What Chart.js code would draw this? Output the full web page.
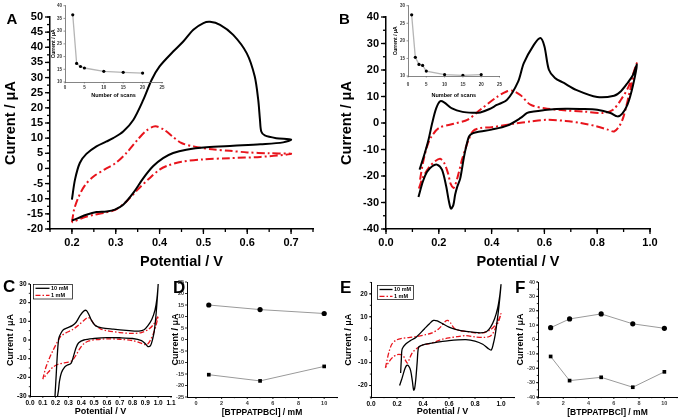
<!DOCTYPE html>
<html><head><meta charset="utf-8">
<script src="https://cdn.jsdelivr.net/npm/chart.js@4/dist/chart.umd.min.js"></script>
<style>
html,body{margin:0;padding:0;background:#fff;}
#root{position:relative;width:681px;height:420px;overflow:hidden;background:#fff;}
canvas{position:absolute;}
.lt{position:absolute;font-family:"Liberation Sans",Arial,sans-serif;font-weight:bold;color:#000;margin:0;}
</style></head><body>
<div id="root">
<canvas id="cA" width="340" height="275" style="left:0px;top:0px"></canvas>
<canvas id="cB" width="345" height="275" style="left:336px;top:0px"></canvas>
<canvas id="cAi" width="125" height="100" style="left:45px;top:0px"></canvas>
<canvas id="cBi" width="120" height="100" style="left:388px;top:0px"></canvas>
<canvas id="cC" width="180" height="145" style="left:0px;top:275px"></canvas>
<canvas id="cD" width="173" height="145" style="left:168px;top:275px"></canvas>
<canvas id="cE" width="180" height="145" style="left:340px;top:275px"></canvas>
<canvas id="cF" width="166" height="145" style="left:515px;top:275px"></canvas>
<div class="lt" style="left:6.5px;top:10.7px;font-size:15px;line-height:15px">A</div>
<div class="lt" style="left:339px;top:10.7px;font-size:15px;line-height:15px">B</div>
<div class="lt" style="left:3px;top:278px;font-size:17px;line-height:17px">C</div>
<div class="lt" style="left:173px;top:278.8px;font-size:17px;line-height:17px">D</div>
<div class="lt" style="left:340px;top:278.8px;font-size:17px;line-height:17px">E</div>
<div class="lt" style="left:515px;top:278.8px;font-size:17px;line-height:17px">F</div>
</div>
<script>
// ================= DATA =================
// Panel A (cyclic voltammograms)
const aBlackFwdX = [0.2,0.207,0.218,0.233,0.256,0.279,0.294,0.317,0.34,0.363,0.382,0.4,0.431,0.454,0.477,0.5,0.515,0.538,0.568,0.599,0.617,0.625,0.629,0.632,0.64,0.666,0.7];
const aBlackFwdY = [-10.3,-3.7,1.8,4.8,7.3,8.9,10,12.2,16,22.7,29.3,33.7,38.6,41.9,45.8,48,48.4,47.4,44.1,38,30.4,22.7,16.1,12.2,10.9,10,9.5];
const aBlackRevX = [0.7,0.682,0.63,0.568,0.507,0.461,0.431,0.408,0.385,0.363,0.34,0.317,0.298,0.279,0.256,0.233,0.214,0.2];
const aBlackRevY = [9.5,8.6,8.0,7.5,7.0,6.2,5.1,3.4,0.7,-3.2,-8.1,-12.0,-13.6,-14.2,-14.4,-15.3,-16.4,-17.2];
const aRedFwdX = [0.2,0.205,0.214,0.23,0.25,0.275,0.3,0.325,0.35,0.37,0.39,0.41,0.43,0.45,0.48,0.52,0.56,0.6,0.65,0.7];
const aRedFwdY = [-17.8,-13.6,-9.8,-5.5,-2.6,-0.3,1.8,5.2,9.5,12.5,13.9,12.8,10.5,8.4,7.2,6.3,5.8,5.3,5.0,4.8];
const aRedRevX = [0.7,0.63,0.56,0.5,0.45,0.42,0.4,0.375,0.35,0.325,0.3,0.275,0.25,0.225,0.2];
const aRedRevY = [4.4,3.8,3.4,3.0,2.2,1.0,-0.4,-3.5,-7,-10.8,-13.6,-14.6,-15.3,-16.3,-17.8];
const aXTicks = [0.2,0.3,0.4,0.5,0.6,0.7];
const aYTicks = [-20,-15,-10,-5,0,5,10,15,20,25,30,35,40,45,50];

// Panel A inset
const insetAScans = [2,3,4,5,10,15,20];
const insetACurrent = [36.4,17.3,16.1,15.5,14.2,13.8,13.5];
const insetAXTicks = [0,5,10,15,20,25];
const insetAYTicks = [10,15,20,25,30,35,40];

// Panel B
const bBlackFwdX = [0.127,0.145,0.161,0.175,0.19,0.205,0.22,0.25,0.29,0.33,0.357,0.39,0.42,0.459,0.5,0.522,0.56,0.585,0.6,0.617,0.64,0.674,0.72,0.8,0.864,0.89,0.915,0.935,0.95];
const bBlackFwdY = [-17.6,-12,-6.3,0,5.5,8.2,7.8,5.5,4.2,3.9,4.0,5.2,6.8,8.8,15.5,22.6,29.5,32.1,29,20.1,17,15.1,12.5,9.8,10.3,12,15.1,18,22];
const bBlackRevX = [0.95,0.935,0.915,0.895,0.877,0.85,0.8,0.738,0.68,0.611,0.56,0.535,0.51,0.459,0.4,0.357,0.33,0.315,0.304,0.295,0.281,0.27,0.262,0.255,0.246,0.237,0.228,0.212,0.193,0.175,0.155,0.14,0.123];
const bBlackRevY = [22,14,7,3.5,2.5,3.8,5,5.3,5.4,5.0,4.3,3.8,1.9,-1.0,-2.5,-3.2,-3.8,-5,-8.8,-13,-21,-24,-27,-31,-32.3,-28.9,-23.9,-17.6,-15.7,-16.3,-18.5,-22,-27.9];
const bRedFwdX = [0.129,0.14,0.155,0.17,0.2,0.256,0.31,0.357,0.42,0.455,0.478,0.51,0.547,0.6,0.674,0.75,0.826,0.86,0.89,0.92,0.95];
const bRedFwdY = [-21.4,-15,-9,-5.5,-1.9,-0.3,1.3,5.0,9.8,11.8,12.2,10.5,6.9,5.6,4.8,4.3,3.8,5,8.8,14,22.6];
const bRedRevX = [0.95,0.928,0.9,0.885,0.864,0.84,0.8,0.738,0.68,0.611,0.55,0.484,0.4,0.357,0.33,0.313,0.3,0.288,0.275,0.262,0.256,0.245,0.235,0.22,0.205,0.185,0.165,0.14,0.123];
const bRedRevY = [22.6,13.8,2.5,-1,-3.2,-2.5,-1.3,0,0.8,1.2,0.6,-0.3,-1.6,-1.9,-3,-6.3,-10,-13.8,-19,-23.5,-24.5,-23,-19,-15,-13.5,-14.5,-16.5,-20.5,-25.2];
const bXTicks = [0.0,0.2,0.4,0.6,0.8,1.0];
const bYTicks = [-40,-30,-20,-10,0,10,20,30,40];

// Panel B inset
const insetBScans = [1,2,3,4,5,10,15,20];
const insetBCurrent = [27.4,15.3,13.3,13.0,11.4,10.4,10.2,10.4];
const insetBXTicks = [0,5,10,15,20,25];
const insetBYTicks = [10,15,20,25,30];

// Panel C
const cLabels = ["10 mM","1 mM"];
const c10FwdX = [0.195,0.205,0.215,0.225,0.24,0.26,0.29,0.33,0.36,0.39,0.42,0.44,0.46,0.48,0.51,0.56,0.65,0.75,0.85,0.89,0.92,0.95,0.975,0.99,1.0];
const c10FwdY = [-30,-18,-6,1,3.5,5.5,6.5,7.7,9.5,13,15.5,15.8,13.5,10.5,7.7,6.5,5.8,5.2,4.8,5.5,7.7,11,16,22,30];
const c10RevX = [1.0,0.985,0.97,0.955,0.94,0.92,0.9,0.87,0.8,0.7,0.6,0.5,0.42,0.38,0.36,0.34,0.32,0.29,0.27,0.245,0.23,0.222,0.215];
const c10RevY = [30,15,5,0,-3,-3.5,-2,-0.3,0.8,1.2,1.3,0.8,0,-1.5,-4,-8.5,-12.5,-13.5,-14.5,-17.5,-22,-27,-30];
const c1FwdX = [0.1,0.12,0.15,0.18,0.21,0.24,0.28,0.33,0.38,0.42,0.45,0.47,0.5,0.55,0.6,0.7,0.8,0.87,0.92,0.96,0.99,1.0];
const c1FwdY = [-21,-15.5,-10,-5.5,-1.5,2,3.8,5.5,8,10.5,12,11.5,8.5,6,5,4,3.5,4,5.5,8,11.5,13];
const c1RevX = [1.0,0.98,0.96,0.94,0.92,0.9,0.86,0.8,0.7,0.6,0.52,0.46,0.42,0.39,0.36,0.33,0.3,0.26,0.22,0.18,0.14,0.1];
const c1RevY = [13,7,3,0,-2,-2.5,-1.5,-0.3,0.4,0.6,0.2,-0.5,-2,-4.5,-8,-11,-11.8,-12.3,-13,-14.5,-17.5,-21];
const cXTicks = [0.0,0.1,0.2,0.3,0.4,0.5,0.6,0.7,0.8,0.9,1.0,1.1];
const cYTicks = [-30,-20,-10,0,10,20,30];

// Panel D
const concD = [1,5,10];
const dAnodic = [15,13,11.3];
const dCathodic = [-15.3,-18,-11.7];
const dXTicks = [0,2,4,6,8,10];
const dYTicks = [-25,-20,-15,-10,-5,0,5,10,15,20,25];

// Panel E
const eLabels = ["10 mM","1 mM"];
const e10FwdX = [0.228,0.233,0.24,0.267,0.3,0.345,0.41,0.45,0.48,0.51,0.55,0.6,0.65,0.73,0.84,0.89,0.92,0.95,0.975,0.99,1.0];
const e10FwdY = [-14.5,-9,-4,-1.9,-0.5,1,4.7,7,8.4,8.2,7,5.5,4.5,3.6,3.0,3.6,5.5,9,14,19,24];
const e10RevX = [1.0,0.985,0.97,0.955,0.94,0.925,0.9,0.86,0.8,0.73,0.6,0.5,0.42,0.38,0.365,0.355,0.345,0.335,0.328,0.318,0.305,0.29,0.275,0.262,0.248,0.235,0.22];
const e10RevY = [24,15,8,2,-2,-4.5,-3.8,-2,-0.6,0,-0.4,-1.2,-1.9,-2.7,-3.4,-10,-17,-21.5,-22,-18,-13.5,-11.5,-11.2,-12.5,-15,-17.5,-20];
const e1FwdX = [0.111,0.125,0.14,0.16,0.19,0.23,0.3,0.36,0.42,0.47,0.52,0.55,0.575,0.59,0.61,0.64,0.68,0.73,0.8,0.86,0.91,0.95,0.98,1.0];
const e1FwdY = [-12.3,-8.5,-5,-2,-0.3,0.5,1,1.5,2.2,3,4.7,6.5,8.2,8.4,7.5,5,4,3.6,3,3,4,6,8.5,11.4];
const e1RevX = [1.0,0.985,0.965,0.94,0.915,0.87,0.8,0.73,0.66,0.6,0.55,0.5,0.45,0.4,0.36,0.33,0.31,0.295,0.28,0.265,0.25,0.23,0.2,0.17,0.14,0.111];
const e1RevY = [11.4,8.5,6,3,1.5,1,1.2,1.8,1.3,0.8,0.2,-0.8,-1.7,-2.3,-3.5,-4.9,-6.5,-8.5,-10.2,-9,-7.2,-6.5,-6.5,-7.5,-9.5,-12.3];
const eXTicks = [0.0,0.2,0.4,0.6,0.8,1.0];
const eYTicks = [-20,-10,0,10,20];

// Panel F
const concF = [1,2.5,5,7.5,10];
const fAnodic = [8.2,14.3,17.8,10.9,7.8];
const fCathodic = [-11.8,-28.6,-26.3,-33.2,-22.5];
const fXTicks = [0,2,4,6,8,10];
const fYTicks = [-40,-30,-20,-10,0,10,20,30,40];

// ================= RENDER =================
const FONT = "'Liberation Sans', Arial, Helvetica, sans-serif";
Chart.defaults.font.family = FONT;
Chart.defaults.color = '#000';
Chart.defaults.animation = false;
const RED = '#e8141c';

function pts(xs, ys) { return xs.map((x, i) => ({x: x, y: ys[i]})); }
function loop(fx, fy, rx, ry) { return pts(fx.concat(rx.slice(1)), fy.concat(ry.slice(1))); }

const ticksPlugin = {
  id: 'axTicks',
  afterDraw(chart, args, o) {
    if (!o || !o.x) return;
    const ctx = chart.ctx, ca = chart.chartArea;
    ctx.save();
    ctx.strokeStyle = o.color || '#000';
    ctx.lineWidth = o.width || 1;
    ['x', 'y'].forEach(k => {
      const s = chart.scales[k], t = o[k];
      const draw = (v, len) => {
        const p = s.getPixelForValue(v);
        ctx.beginPath();
        if (k === 'x') { ctx.moveTo(p, ca.bottom); ctx.lineTo(p, ca.bottom + len); }
        else { ctx.moveTo(ca.left, p); ctx.lineTo(ca.left - len, p); }
        ctx.stroke();
      };
      if (t.minor) {
        const i0 = Math.ceil(s.min / t.minor - 1e-6), i1 = Math.floor(s.max / t.minor + 1e-6);
        for (let i = i0; i <= i1; i++) draw(i * t.minor, t.minLen);
      }
      s.ticks.forEach(tk => draw(tk.value, t.len));
    });
    ctx.restore();
  }
};

const boxLegend = {
  id: 'boxLegend',
  afterDraw(chart, args, o) {
    if (!o || !o.show) return;
    const ctx = chart.ctx;
    ctx.save();
    ctx.strokeStyle = '#000'; ctx.lineWidth = 0.7;
    ctx.strokeRect(o.x, o.y, o.w, o.h);
    chart.data.datasets.forEach((ds, i) => {
      const y = o.y + o.row0 + i * o.rowH;
      ctx.strokeStyle = ds.borderColor; ctx.lineWidth = ds.borderWidth;
      ctx.setLineDash(ds.borderDash || []);
      ctx.beginPath(); ctx.moveTo(o.x + o.lx0, y); ctx.lineTo(o.x + o.lx1, y); ctx.stroke();
      ctx.setLineDash([]);
      ctx.fillStyle = '#000'; ctx.font = o.font; ctx.textBaseline = 'middle'; ctx.textAlign = 'left';
      ctx.fillText(ds.label, o.x + o.tx, y);
    });
    ctx.restore();
  }
};

function mk(id, s) {
  const g = s.geo;
  const ax = (a, isX) => ({
    type: 'linear', position: isX ? 'bottom' : 'left',
    min: a.min, max: a.max,
    afterBuildTicks: sc => { sc.ticks = a.ticks.map(v => ({value: v})); },
    afterFit: sc => { if (isX) sc.height = g.xh; else sc.width = g.yw; },
    grid: {display: false, drawTicks: false},
    border: {display: true, color: s.axisColor || '#000', width: s.axisWidth || 1},
    ticks: {autoSkip: false, maxRotation: 0, minRotation: 0, padding: a.pad, color: s.tickColor || '#000',
      font: {size: s.tickFs, weight: 'bold'},
      callback: v => a.dec == null ? String(v) : Number(v).toFixed(a.dec)},
    title: {display: true, text: a.title, color: '#000', font: {size: a.tfs, weight: 'bold'},
      padding: {top: a.tpad, bottom: a.tpad}}
  });
  return new Chart(document.getElementById(id), {
    type: 'scatter',
    data: {datasets: s.datasets},
    options: {
      responsive: false, animation: false, devicePixelRatio: 1,
      layout: {padding: {left: 0, bottom: 0, top: g.pt, right: g.pr}},
      plugins: {legend: {display: false}, tooltip: {enabled: false}, axTicks: s.tk, boxLegend: s.legend || {show: false}},
      scales: {x: ax(s.x, true), y: ax(s.y, false)},
      elements: {point: {radius: 0}, line: {tension: 0.3}}
    },
    plugins: [ticksPlugin, boxLegend]
  });
}

function cvSet(label, data, color, w, dash) {
  return {label: label, data: data, showLine: true, borderColor: color, backgroundColor: color,
    borderWidth: w, borderDash: dash, pointRadius: 0, fill: false, tension: 0.3, borderJoinStyle: 'round'};
}
function markSet(data, style, r) {
  return {data: data, showLine: true, borderColor: '#9a9a9a', borderWidth: 1, tension: 0,
    pointRadius: r, pointStyle: style, pointBackgroundColor: '#000', pointBorderColor: '#000', pointBorderWidth: 0};
}
function insetSet(data) {
  return {data: data, showLine: true, borderColor: '#b5b5b5', borderWidth: 1.3, tension: 0,
    pointRadius: 1.6, pointStyle: 'circle', pointBackgroundColor: '#000', pointBorderColor: '#000', pointBorderWidth: 0};
}

// ---- A ----
mk('cA', {
  geo: {yw: 50, xh: 46, pt: 17, pr: 27}, tickFs: 11, axisWidth: 1.5,
  x: {min: 0.15, max: 0.75, ticks: aXTicks, dec: 1, pad: 7, title: 'Potential / V', tfs: 14.5, tpad: 4.3},
  y: {min: -20, max: 50, ticks: aYTicks, pad: 7, title: 'Current / \u03bcA', tfs: 14.5, tpad: 1.8},
  tk: {x: {len: 5, minLen: 3, minor: 0.05}, y: {len: 5, minLen: 3, minor: 2.5}, width: 1.3},
  datasets: [
    cvSet('', loop(aBlackFwdX, aBlackFwdY, aBlackRevX, aBlackRevY), '#000', 2, []),
    cvSet('', loop(aRedFwdX, aRedFwdY, aRedRevX, aRedRevY), RED, 2, [8, 3, 2, 3])
  ]
});
// ---- B ----
mk('cB', {
  geo: {yw: 50, xh: 46, pt: 17, pr: 31}, tickFs: 11, axisWidth: 1.5,
  x: {min: 0, max: 1.0, ticks: bXTicks, dec: 1, pad: 7, title: 'Potential / V', tfs: 14.5, tpad: 4.3},
  y: {min: -40, max: 40, ticks: bYTicks, pad: 7, title: 'Current / \u03bcA', tfs: 14.5, tpad: 2.3},
  tk: {x: {len: 5, minLen: 3, minor: 0.1}, y: {len: 5, minLen: 3, minor: 5}, width: 1.3},
  datasets: [
    cvSet('', loop(bBlackFwdX, bBlackFwdY, bBlackRevX, bBlackRevY), '#000', 2, []),
    cvSet('', loop(bRedFwdX, bRedFwdY, bRedRevX, bRedRevY), RED, 2, [8, 3, 2, 3])
  ]
});
// ---- insets ----
mk('cAi', {
  geo: {yw: 20, xh: 18, pt: 5, pr: 8}, tickFs: 4.5, axisColor: '#666', axisWidth: 0.8, tickColor: '#333',
  x: {min: 0, max: 25, ticks: insetAXTicks, pad: 3, title: 'Number of scans', tfs: 5.5, tpad: 1.7},
  y: {min: 10, max: 40, ticks: insetAYTicks, pad: 3, title: 'Current / \u03bcA', tfs: 5, tpad: 6},
  tk: {x: {len: 1.5, minLen: 0}, y: {len: 1.5, minLen: 0}, width: 0.7, color: '#666'},
  datasets: [insetSet(pts(insetAScans, insetACurrent))]
});
mk('cBi', {
  geo: {yw: 20, xh: 24, pt: 5, pr: 5}, tickFs: 4.5, axisColor: '#666', axisWidth: 0.8, tickColor: '#333',
  x: {min: 0, max: 25, ticks: insetBXTicks, pad: 6, title: 'Number of scans', tfs: 5.5, tpad: 1.7},
  y: {min: 10, max: 30, ticks: insetBYTicks, pad: 3, title: 'Current / \u03bcA', tfs: 5, tpad: 4.5},
  tk: {x: {len: 1.5, minLen: 0}, y: {len: 1.5, minLen: 0}, width: 0.7, color: '#666'},
  datasets: [insetSet(pts(insetBScans, insetBCurrent))]
});
// ---- C ----
mk('cC', {
  geo: {yw: 30, xh: 24, pt: 9, pr: 9}, tickFs: 6.5, axisWidth: 1,
  x: {min: 0, max: 1.1, ticks: cXTicks, dec: 1, pad: 3, title: 'Potential / V', tfs: 9, tpad: 2.6},
  y: {min: -30, max: 30, ticks: cYTicks, pad: 3.5, title: 'Current / \u03bcA', tfs: 9, tpad: 5.6},
  tk: {x: {len: 2, minLen: 0}, y: {len: 2, minLen: 1.2, minor: 5}, width: 0.8},
  legend: {show: true, x: 33.5, y: 9.5, w: 39, h: 14.5, row0: 3.8, rowH: 7, lx0: 2, lx1: 16, tx: 17.5, font: 'bold 5.5px ' + FONT},
  datasets: [
    cvSet(cLabels[0], loop(c10FwdX, c10FwdY, c10RevX, c10RevY), '#000', 1.3, []),
    cvSet(cLabels[1], loop(c1FwdX, c1FwdY, c1RevX, c1RevY), RED, 1.3, [5, 2, 1.5, 2])
  ]
});
// ---- D ----
mk('cD', {
  geo: {yw: 19, xh: 23, pt: 7, pr: 3}, tickFs: 5.5, axisWidth: 1, tickColor: '#333',
  x: {min: -0.7, max: 11, ticks: dXTicks, pad: 3, title: '[BTPPATPBCl] / mM', tfs: 8.5, tpad: 2.6},
  y: {min: -25, max: 25, ticks: dYTicks, pad: 3, title: 'Current / \u03bcA', tfs: 9, tpad: 2.2},
  tk: {x: {len: 2, minLen: 1.2, minor: 1}, y: {len: 2, minLen: 0}, width: 0.8},
  datasets: [
    markSet(pts(concD, dAnodic), 'circle', 2.6),
    markSet(pts(concD, dCathodic), 'rect', 2.6)
  ]
});
// ---- E ----
mk('cE', {
  geo: {yw: 31, xh: 23, pt: 7, pr: 6}, tickFs: 6.5, axisWidth: 1,
  x: {min: 0, max: 1.1, ticks: eXTicks, dec: 1, pad: 3, title: 'Potential / V', tfs: 9, tpad: 2.6},
  y: {min: -25, max: 25, ticks: eYTicks, pad: 3.5, title: 'Current / \u03bcA', tfs: 9, tpad: 3.1},
  tk: {x: {len: 2, minLen: 1.2, minor: 0.1}, y: {len: 2, minLen: 1.2, minor: 5}, width: 0.8},
  legend: {show: true, x: 37.5, y: 10.5, w: 36, h: 14, row0: 4, rowH: 6.8, lx0: 2, lx1: 15, tx: 16.5, font: 'bold 5.5px ' + FONT},
  datasets: [
    cvSet(eLabels[0], loop(e10FwdX, e10FwdY, e10RevX, e10RevY), '#000', 1.3, []),
    cvSet(eLabels[1], loop(e1FwdX, e1FwdY, e1RevX, e1RevY), RED, 1.3, [5, 2, 1.5, 2])
  ]
});
// ---- F ----
mk('cF', {
  geo: {yw: 23, xh: 23, pt: 7, pr: 2}, tickFs: 5.5, axisWidth: 1, tickColor: '#444',
  x: {min: 0, max: 11, ticks: fXTicks, pad: 3, title: '[BTPPATPBCl] / mM', tfs: 8.5, tpad: 2.6},
  y: {min: -40, max: 40, ticks: fYTicks, pad: 3, title: 'Current / \u03bcA', tfs: 9, tpad: 0.6},
  tk: {x: {len: 2, minLen: 1.2, minor: 1}, y: {len: 2, minLen: 1.2, minor: 5}, width: 0.8},
  datasets: [
    markSet(pts(concF, fAnodic), 'circle', 2.6),
    markSet(pts(concF, fCathodic), 'rect', 2.6)
  ]
});
</script>
</body></html>
